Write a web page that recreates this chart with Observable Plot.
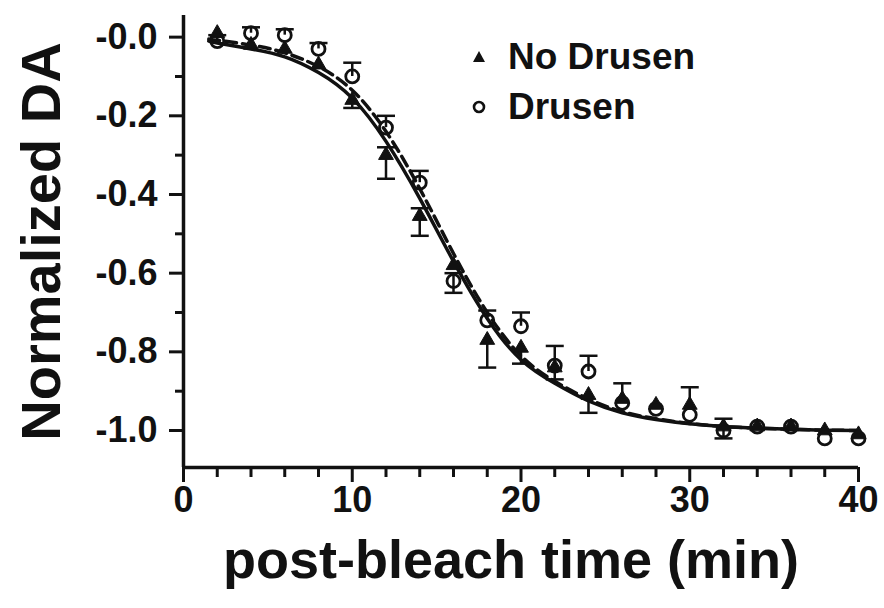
<!DOCTYPE html>
<html><head><meta charset="utf-8">
<script src="https://cdn.jsdelivr.net/npm/d3@7"></script>
<script src="https://cdn.jsdelivr.net/npm/@observablehq/plot@0.6"></script>
<style>
html,body{margin:0;padding:0;background:#fff;}
#wrap{position:relative;width:884px;height:608px;font-family:"Liberation Sans",Arial,sans-serif;color:#111;}
#legend{position:absolute;left:466px;top:32px;font-weight:bold;font-size:37px;line-height:50px;}
#legend div{display:flex;align-items:center;}
#legend svg{margin-right:16px;}
</style></head><body>
<div id="wrap"><div id="chart"></div>
<div id="legend">
<div><svg width="26" height="26" viewBox="-13 -13 26 26"><path d="M0,-6L6,5L-6,5Z" fill="#111"/></svg>No Drusen</div>
<div><svg width="26" height="26" viewBox="-13 -13 26 26"><circle r="5" fill="none" stroke="#111" stroke-width="2.6"/></svg>Drusen</div>
</div></div>
<script>
// Time points (min)
const times = [2,4,6,8,10,12,14,16,18,20,22,24,26,28,30,32,34,36,38,40];
// No Drusen (triangles)
const noDrusen        = [0.01,-0.02,-0.03,-0.07,-0.16,-0.30,-0.455,-0.58,-0.77,-0.79,-0.84,-0.91,-0.92,-0.935,-0.935,-0.99,-0.99,-0.99,-1.00,-1.01];
const noDrusenErrUp   = [0,0,0,0,0,0.02,0.02,0,0,0,0,0,0,0,0.045,0,0,0,0,0];
const noDrusenErrDown = [0,0,0,0,0.02,0.06,0.05,0,0.07,0.04,0.03,0.045,0,0,0,0.03,0,0,0,0];
// Drusen (circles)
const drusen          = [-0.01,0.01,0.005,-0.03,-0.10,-0.23,-0.37,-0.62,-0.72,-0.735,-0.835,-0.85,-0.93,-0.945,-0.96,-1.00,-0.99,-0.99,-1.02,-1.02];
const drusenErrUp     = [0.015,0.015,0.015,0.015,0.035,0.03,0.03,0.02,0.025,0.035,0.05,0.04,0.05,0,0,0.03,0,0,0,0];
const drusenErrDown   = [0,0,0,0,0,0,0,0.03,0,0,0,0,0,0,0,0,0,0,0,0];
// Fitted curves
const fitTimes    = [1.5,2,4,6,8,10,12,14,16,18,20,22,24,26,28,30,32,34,36,38,40];
const fitNoDrusen = [-0.01,-0.015,-0.03,-0.05,-0.09,-0.155,-0.265,-0.41,-0.57,-0.715,-0.82,-0.88,-0.925,-0.955,-0.972,-0.983,-0.99,-0.994,-0.997,-0.999,-1.0];
const fitDrusen   = [-0.005,-0.008,-0.02,-0.04,-0.075,-0.135,-0.24,-0.385,-0.55,-0.70,-0.81,-0.875,-0.92,-0.952,-0.97,-0.982,-0.99,-0.994,-0.997,-0.999,-1.0];
// Axis ticks
const xTicks = [0,10,20,30,40];
const xMinor = [2,4,6,8,12,14,16,18,22,24,26,28,32,34,36,38];
const yTicks = [0,-0.2,-0.4,-0.6,-0.8,-1.0];
const yTickLabels = ["-0.0","-0.2","-0.4","-0.6","-0.8","-1.0"];
const yMinor = [-0.1,-0.3,-0.5,-0.7,-0.9];

const pts = [];
times.forEach((t,i)=>{
  pts.push({t, s:"No Drusen", v:noDrusen[i], lo:noDrusen[i]-noDrusenErrDown[i], hi:noDrusen[i]+noDrusenErrUp[i], up:noDrusenErrUp[i], dn:noDrusenErrDown[i]});
  pts.push({t, s:"Drusen", v:drusen[i], lo:drusen[i]-drusenErrDown[i], hi:drusen[i]+drusenErrUp[i], up:drusenErrUp[i], dn:drusenErrDown[i]});
});
const fits = fitTimes.flatMap((t,i)=>[{t, s:"No Drusen", v:fitNoDrusen[i]},{t, s:"Drusen", v:fitDrusen[i]}]);
const caps = pts.flatMap(d=>[...(d.up>0?[{t:d.t,v:d.hi}]:[]), ...(d.dn>0?[{t:d.t,v:d.lo}]:[])]);

const capSymbol = {draw(ctx, size){ const w = Math.sqrt(size/Math.PI); ctx.moveTo(-w,0); ctx.lineTo(w,0); }};
const ink = "#111";

const chart = Plot.plot({
  width: 884, height: 608,
  marginLeft: 183, marginRight: 26, marginTop: 15, marginBottom: 141,
  style: {fontFamily: '"Liberation Sans", Arial, sans-serif', fontWeight: "bold", color: ink, background: "#fff"},
  x: {domain: [0, 40]},
  y: {domain: [-1.094, 0.055]},
  marks: [
    Plot.line(fits.filter(d=>d.s==="No Drusen"), {x:"t", y:"v", curve:"natural", stroke: ink, strokeWidth: 3.5}),
    Plot.line(fits.filter(d=>d.s==="Drusen"), {x:"t", y:"v", curve:"natural", stroke: ink, strokeWidth: 3.5, strokeDasharray: "11,6"}),
    Plot.ruleX(pts.filter(d=>d.up>0||d.dn>0), {x:"t", y1:"lo", y2:"hi", stroke: ink, strokeWidth: 2.5}),
    Plot.dot(caps, {x:"t", y:"v", symbol: capSymbol, r: 9, stroke: ink, strokeWidth: 2.5, fill: "none"}),
    Plot.dot(pts.filter(d=>d.s==="No Drusen"), {x:"t", y:"v", symbol:"triangle", r: 5.5, fill: ink, stroke: ink, strokeWidth: 1}),
    Plot.dot(pts.filter(d=>d.s==="Drusen"), {x:"t", y:"v", symbol:"circle", r: 6.5, fill: "none", stroke: ink, strokeWidth: 2.8}),
    Plot.ruleX([0], {y1: -1.094, y2: 0.055, stroke: ink, strokeWidth: 3.5}),
    Plot.ruleY([-1.094], {x1: 0, x2: 40, stroke: ink, strokeWidth: 3.5}),
    Plot.axisY(yMinor, {tickSize: 8, tickFormat: () => "", label: null, strokeWidth: 3, stroke: ink}),
    Plot.axisY(yTicks, {tickSize: 14, tickPadding: 12, label: null, strokeWidth: 3, stroke: ink, fontSize: 36, fontWeight: "bold", fill: ink,
      tickFormat: d => yTickLabels[yTicks.indexOf(d)]}),
    Plot.axisX(xMinor, {tickSize: 10, tickFormat: () => "", label: null, strokeWidth: 3, stroke: ink}),
    Plot.axisX(xTicks, {tickSize: 15, tickPadding: 4, label: null, strokeWidth: 3, stroke: ink, fontSize: 36, fontWeight: "bold", fill: ink,
      tickFormat: d => String(d)}),
    Plot.text(["post-bleach time (min)"], {frameAnchor: "bottom", dx: -10, dy: 110, fontSize: 54, fontWeight: "bold", fill: ink}),
    Plot.text(["Normalized DA"], {frameAnchor: "left", dx: -141, rotate: -90, textAnchor: "middle", fontSize: 56, fontWeight: "bold", fill: ink})
  ]
});
document.getElementById("chart").appendChild(chart);
</script>
</body></html>
